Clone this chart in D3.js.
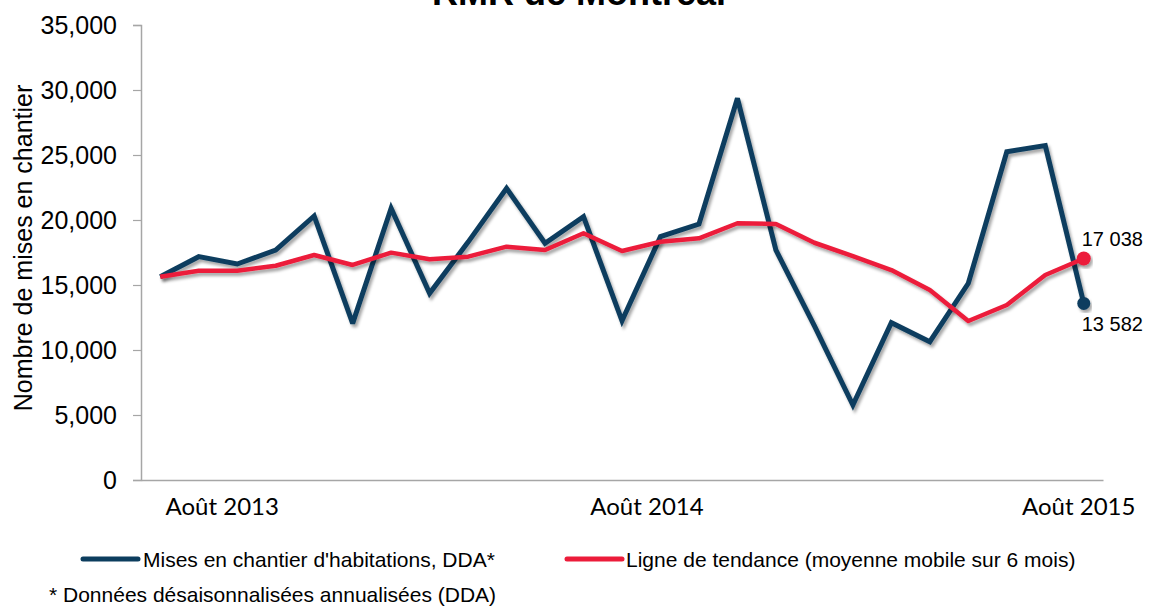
<!DOCTYPE html>
<html><head><meta charset="utf-8">
<script src="https://cdn.jsdelivr.net/npm/d3@7"></script>
<style>
html,body{margin:0;padding:0;background:#fff;}
svg{display:block;}
</style></head>
<body>
<svg id="chart" width="1149" height="608"></svg>
<script>
const months = ["2013-08","2013-09","2013-10","2013-11","2013-12","2014-01","2014-02","2014-03","2014-04","2014-05","2014-06","2014-07","2014-08","2014-09","2014-10","2014-11","2014-12","2015-01","2015-02","2015-03","2015-04","2015-05","2015-06","2015-07","2015-08"];
const starts = [15640,17180,16615,17690,20310,12050,20900,14360,18300,22440,18210,20250,12250,18720,19690,29360,17690,11850,5770,12100,10640,15130,25250,25720,13582];
const trend = [15640,16100,16100,16480,17310,16540,17490,16980,17180,17950,17690,18980,17620,18330,18590,19750,19690,18250,17230,16150,14620,12230,13460,15770,17038];
const yTicks = [0,5000,10000,15000,20000,25000,30000,35000];
const xLabelIdx = [0,12,24];
const xLabels = ["Août 2013","Août 2014","Août 2015"];
const seriesNames = ["Mises en chantier d'habitations, DDA*","Ligne de tendance (moyenne mobile sur 6 mois)"];
const endLabels = ["13 582","17 038"];
const title = "RMR de Montréal";
const yTitle = "Nombre de mises en chantier";
const footnote = "* Données désaisonnalisées annualisées (DDA)";

const BLUE = "#0c3d5e", RED = "#ec1c3a", AXIS = "#a6a6a6";
const AR = "'Liberation Sans', Arial, sans-serif";
const svg = d3.select("#chart");

const defs = svg.append("defs");
const f = defs.append("filter").attr("id","sh").attr("x","-10%").attr("y","-10%").attr("width","120%").attr("height","130%");
f.append("feDropShadow").attr("dx",2).attr("dy",3).attr("stdDeviation",1.6).attr("flood-color","#000").attr("flood-opacity",0.35);

const x = d3.scaleBand().domain(months).range([141,1103]);
const y = d3.scaleLinear().domain([0,35000]).range([480,25]);
const cx = i => x(months[i]) + x.bandwidth()/2;

// title
svg.append("text").attr("x",579).attr("y",5).attr("text-anchor","middle")
  .style("font-family",AR).style("font-weight","bold").style("font-size","36px").text(title);

// y axis
const ya = svg.append("g").attr("transform","translate(141,0)")
  .call(d3.axisLeft(y).tickValues(yTicks).tickFormat(d3.format(",")).tickSize(8).tickPadding(16));
ya.select(".domain").attr("stroke",AXIS).attr("stroke-width",1.5);
ya.selectAll(".tick line").attr("stroke",AXIS).attr("stroke-width",1.2);
ya.selectAll(".tick text").style("font-family",AR).style("font-size","25px").attr("fill","#000");

// x axis
const xa = svg.append("g").attr("transform","translate(0,480)")
  .call(d3.axisBottom(x).tickValues([]).tickSize(0).tickSizeOuter(0));
xa.select(".domain").attr("stroke",AXIS).attr("stroke-width",1.5);

const xOff = [62,25,-5];
svg.append("g").selectAll("text").data(xLabelIdx).join("text")
  .attr("x",(d,k)=>cx(d)+xOff[k]).attr("y",515).attr("text-anchor","middle")
  .style("font-family","Lato, 'Open Sans', sans-serif").style("font-size","24px").attr("fill","#000")
  .text((d,k)=>xLabels[k]);

// y title
svg.append("text").attr("transform","translate(32,248) rotate(-90)").attr("text-anchor","middle")
  .style("font-family",AR).style("font-size","25px").text(yTitle);

// lines
const line = d3.line().x((d,i)=>cx(i)).y(d=>y(d));
svg.append("path").datum(starts).attr("d",line).attr("fill","none").attr("stroke",BLUE)
  .attr("stroke-width",5).attr("stroke-linejoin","miter").attr("stroke-miterlimit",3).attr("filter","url(#sh)");
svg.append("path").datum(trend).attr("d",line).attr("fill","none").attr("stroke",RED)
  .attr("stroke-width",4.5).attr("stroke-linejoin","round").attr("filter","url(#sh)");

const last = months.length-1;
svg.append("circle").attr("cx",cx(last)).attr("cy",y(starts[last])).attr("r",6.5).attr("fill",BLUE).attr("filter","url(#sh)");
svg.append("circle").attr("cx",cx(last)).attr("cy",y(trend[last])).attr("r",7).attr("fill",RED).attr("filter","url(#sh)");
svg.append("text").attr("x",cx(last)-2).attr("y",y(trend[last])-13).style("font-family",AR).style("font-size","20px").text(endLabels[1]);
svg.append("text").attr("x",cx(last)-2).attr("y",y(starts[last])+28).style("font-family",AR).style("font-size","20px").text(endLabels[0]);

// legend
const lg = svg.append("g");
[[83,138,BLUE,143],[567,622,RED,626]].forEach((p,k)=>{
  lg.append("line").attr("x1",p[0]).attr("x2",p[1]).attr("y1",559).attr("y2",559)
    .attr("stroke",p[2]).attr("stroke-width",5).attr("stroke-linecap","round");
  lg.append("text").attr("x",p[3]).attr("y",567).style("font-family",AR).style("font-size","21px").text(seriesNames[k]);
});
svg.append("text").attr("x",49).attr("y",602).style("font-family",AR).style("font-size","21px").text(footnote);
</script>
</body></html>
